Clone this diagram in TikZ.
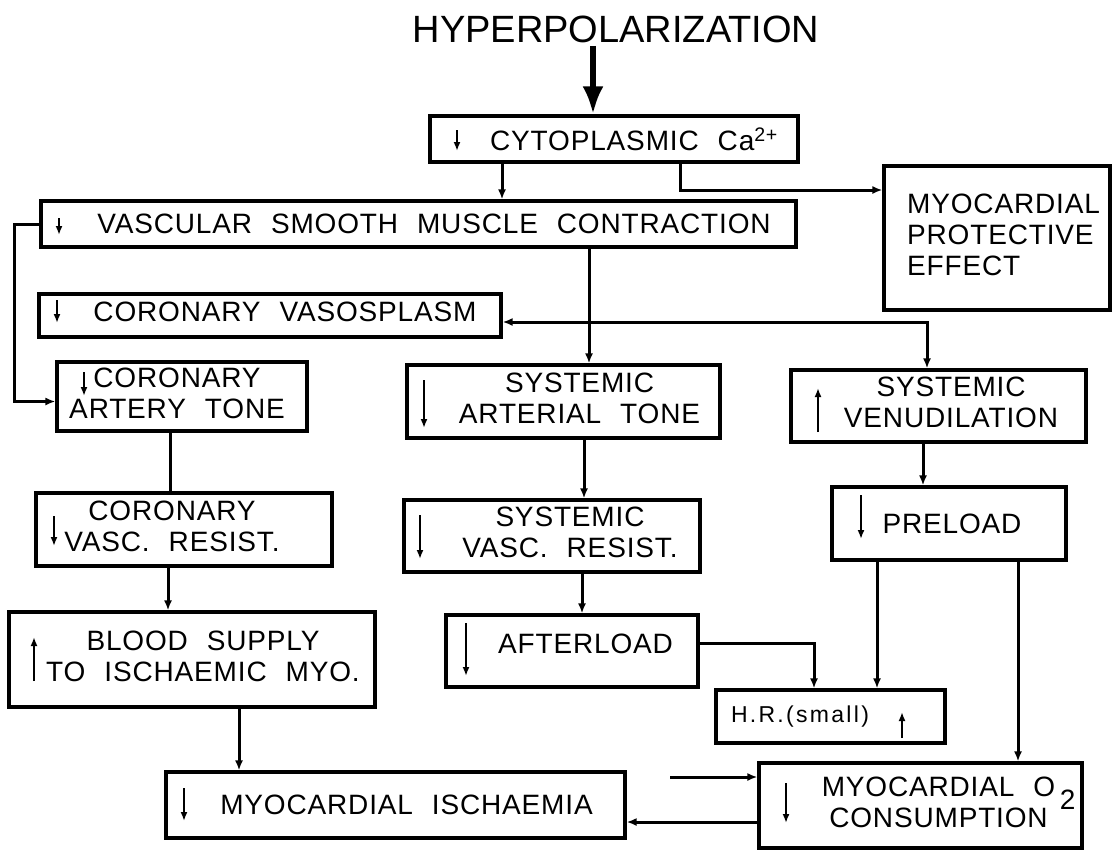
\documentclass[tikz,border=0pt]{standalone}
\usepackage{fontspec}
\usepackage{graphicx}
\setmainfont{Liberation Sans}[LetterSpace=3,WordSpace=2.2]
\newfontfamily\titlefont{Liberation Sans}
\usetikzlibrary{arrows.meta,positioning,calc}
\tikzset{>={Latex[length=10pt,width=8pt]}}
\tikzset{box/.style={draw,line width=3.2pt,inner sep=0pt},
         link/.style={line width=3pt},
         sign/.style={line width=2.2pt,-{Latex[length=9pt,width=7pt]}}}
\newcommand{\twol}[2]{\begin{tabular}{@{}c@{}}#1\\#2\end{tabular}}

\begin{document}
\begin{tikzpicture}[x=1pt,y=-1pt,font=\fontsize{28}{31}\selectfont]
\useasboundingbox (0,0) rectangle (1113,852);

\node (title) at (616,29) {\titlefont\fontsize{38}{40}\selectfont HYPERPOLARIZATION};

\node [box,minimum width=368pt,minimum height=46pt] (cyto) at (614,139) {\hspace*{40pt}CYTOPLASMIC Ca\textsuperscript{2+}};
\node [box,minimum width=226pt,minimum height=144pt] (prot) at (997,238) {\hspace*{13pt}\begin{tabular}{@{}l@{}}MYOCARDIAL\\PROTECTIVE\\EFFECT\end{tabular}};
\node [box,minimum width=755pt,minimum height=46pt] (vsmc) at (418.5,224) {\hspace*{31pt}VASCULAR SMOOTH MUSCLE CONTRACTION};
\node [box,minimum width=462pt,minimum height=43pt] (vaso) at (270,315.5) {\hspace*{30pt}\raisebox{8pt}{CORONARY VASOSPLASM}};

\node [box,minimum width=250pt,minimum height=69pt] (cat) at (182,396.5) {\twol{CORONARY}{ARTERY TONE}\hspace*{10pt}};
\node [box,minimum width=313pt,minimum height=73pt] (sat) at (563.5,401.5) {\hspace*{32pt}\twol{SYSTEMIC}{ARTERIAL TONE}};
\node [box,minimum width=295pt,minimum height=72pt] (venu) at (938.5,406) {\hspace*{25pt}\twol{SYSTEMIC}{VENUDILATION}};

\node [box,minimum width=296pt,minimum height=73pt] (cvr) at (184,529.5) {\twol{CORONARY}{VASC. RESIST.}\hspace*{24pt}};
\node [box,minimum width=296pt,minimum height=72pt] (svr) at (552,536) {\hspace*{36pt}\twol{SYSTEMIC}{VASC. RESIST.}};
\node [box,minimum width=234pt,minimum height=73pt] (prel) at (949,523.5) {\hspace*{6pt}PRELOAD};

\node [box,minimum width=366pt,minimum height=95pt] (bs) at (192,659.5) {\hspace*{22pt}\twol{BLOOD SUPPLY}{TO ISCHAEMIC MYO.}};
\node [box,minimum width=252pt,minimum height=72pt] (al) at (572,651) {\hspace*{27pt}\raisebox{15pt}{AFTERLOAD}};
\node [box,minimum width=229pt,minimum height=53pt] (hr) at (830.5,716.5) {{\fontsize{23}{28}\selectfont\addfontfeatures{LetterSpace=10}H.R.(small)}\hspace*{61pt}};

\node [box,minimum width=459pt,minimum height=66pt] (mi) at (395.5,805) {\hspace*{22pt}MYOCARDIAL ISCHAEMIA};
\node [box,minimum width=323pt,minimum height=85pt] (o2) at (920.5,805.5) {\hspace*{36pt}\twol{MYOCARDIAL O\rlap{\,\smash{\raisebox{-13pt}{2}}}}{CONSUMPTION}};

\coordinate (src) at (670,777);

% small up/down signs
\draw[sign] (457,130) -- (457,151);
\draw[sign] (59,218) -- (59,235);
\draw[sign] (57,300) -- (57,323);
\draw[sign] (84,372) -- (84,396);
\draw[sign] (424,380) -- (424,428);
\draw[sign] (818,432) -- (818,388);
\draw[sign] (54,516) -- (54,546);
\draw[sign] (420,515) -- (420,559);
\draw[sign] (861,495) -- (861,539);
\draw[sign] (34,681) -- (34,637);
\draw[sign] (466,623) -- (466,676);
\draw[sign] (902,738) -- (902,712);
\draw[sign] (184,788) -- (184,821);
\draw[sign] (786,783) -- (786,823);

\draw[line width=6.5pt,-{Latex[length=28pt,width=21pt]}] ([xshift=-23pt]title.south) -- ([xshift=-21pt]cyto.north);

\begin{scope}[link]
\draw[->] ([xshift=-112pt]cyto.south) -- ([xshift=-112pt]cyto.south |- vsmc.north);
\draw[->] ([xshift=66pt]cyto.south) |- ([yshift=48pt]prot.west);
\draw[->] (vsmc.west) -- ++(-25,0) |- ([yshift=-5pt]cat.west);
\draw[->] ([xshift=170.5pt]vsmc.south) -- ([xshift=170.5pt]vsmc.south |- sat.north);
\draw[<->] ([yshift=-6.5pt]vaso.east) -| ([xshift=-11.5pt]venu.north);
\draw ([xshift=-12pt]cat.south) -- ([xshift=-12pt]cat.south |- cvr.north);
\draw[->] ([xshift=-16pt]cvr.south) -- ([xshift=-16pt]cvr.south |- bs.north);
\draw[->] ([xshift=47pt]bs.south) -- ([xshift=47pt]bs.south |- mi.north);
\draw[->] ([xshift=20.5pt]sat.south) -- ([xshift=20.5pt]sat.south |- svr.north);
\draw[->] ([xshift=30pt]svr.south) -- ([xshift=30pt]svr.south |- al.north);
\draw[->] ([yshift=8pt]al.east) -| ([xshift=-16.5pt]hr.north);
\draw[->] ([xshift=-15.5pt]venu.south) -- ([xshift=-15.5pt]venu.south |- prel.north);
\draw[->] ([xshift=-72pt]prel.south) -- ([xshift=-72pt]prel.south |- hr.north);
\draw[->] ([xshift=69pt]prel.south) -- ([xshift=69pt]prel.south |- o2.north);
\draw[->] (src) -- (src -| o2.west);
\draw[->] ([yshift=-16.5pt]o2.west) -- ([yshift=-16.5pt]o2.west -| mi.east);
\end{scope}

\end{tikzpicture}
\end{document}
